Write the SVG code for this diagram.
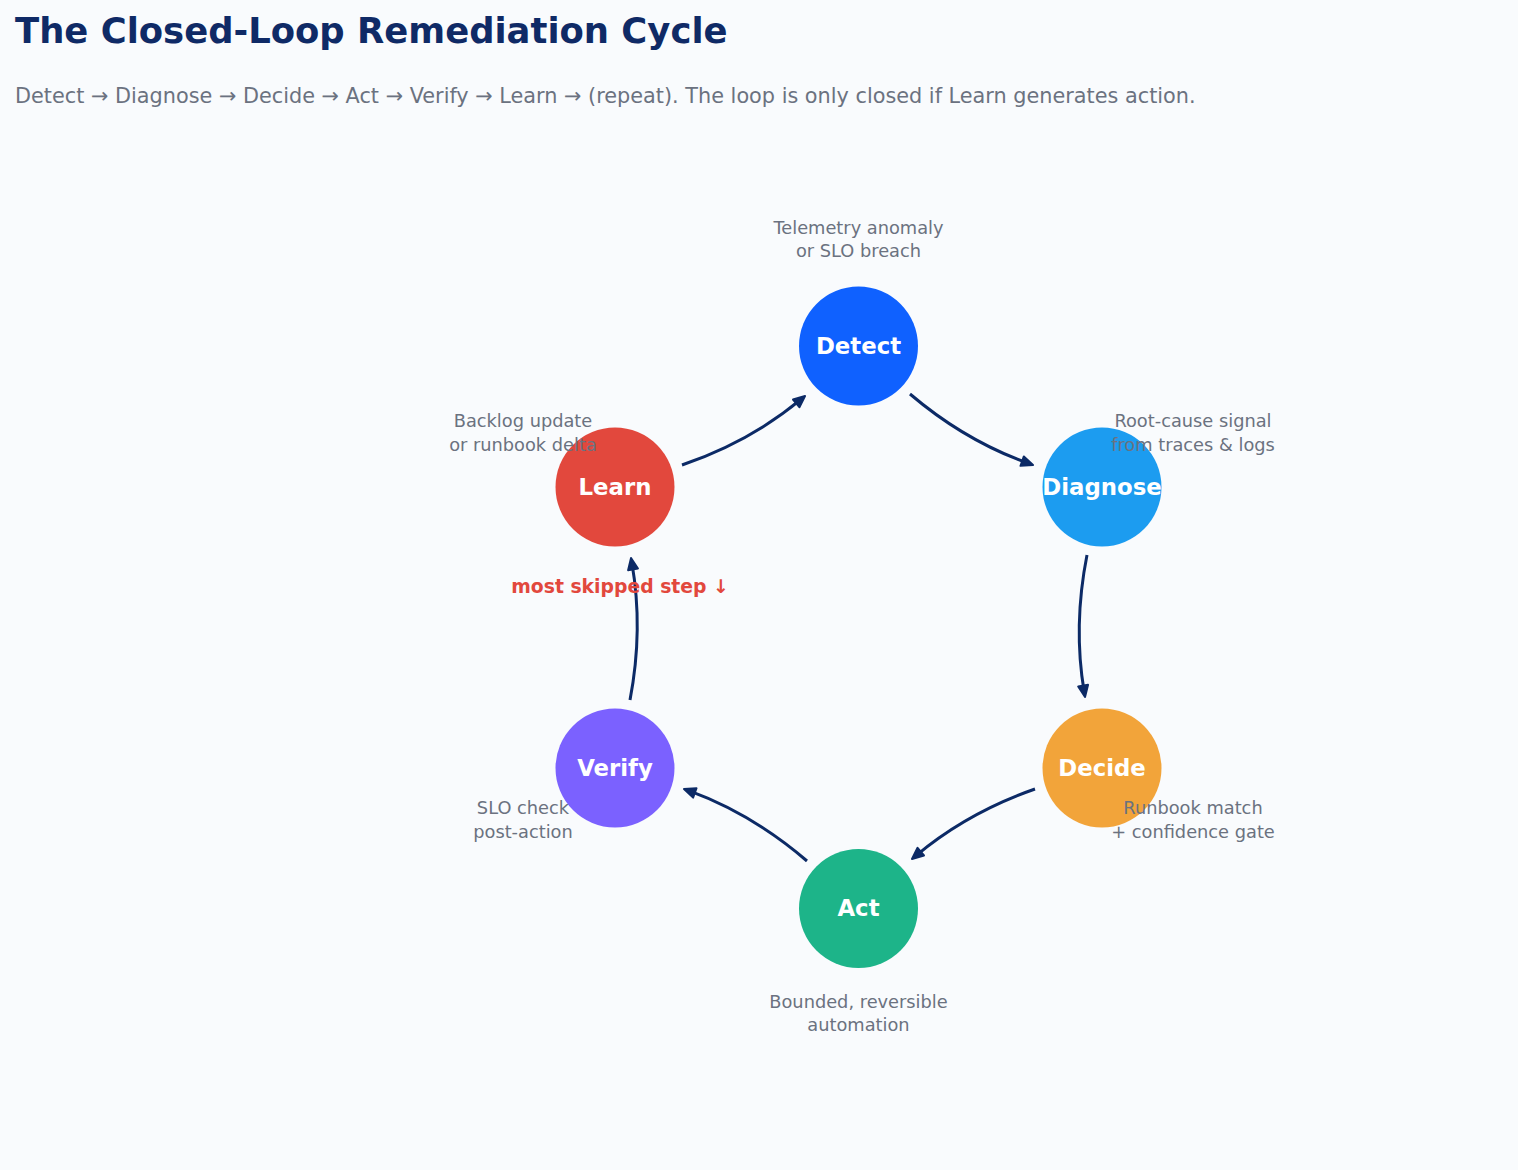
<svg xmlns="http://www.w3.org/2000/svg" width="1518" height="1170" viewBox="0 0 1518 1170">
<style>
.title{font-family:"DejaVu Sans",sans-serif;font-weight:bold;font-size:35.4px;fill:#0f2a66}
.sub{font-family:"DejaVu Sans",sans-serif;font-size:20.8px;fill:#6b7280}
.lbl{font-family:"DejaVu Sans",sans-serif;font-weight:bold;font-size:22.8px;fill:#ffffff;text-anchor:middle}
.ann{font-family:"DejaVu Sans",sans-serif;font-size:17.8px;fill:#6b7280;text-anchor:middle}
.warn{font-family:"DejaVu Sans",sans-serif;font-weight:bold;font-size:18.8px;fill:#e2483d;text-anchor:middle}
.edge{fill:none;stroke:#0c2a66;stroke-width:3;marker-end:url(#ah)}
</style>
<defs>
<marker id="ah" markerUnits="userSpaceOnUse" markerWidth="16" markerHeight="14" viewBox="0 0 16 14" refX="8" refY="7" orient="auto">
<path d="M1.5,2 L13,7 L1.5,12 z" fill="#0c2a66" stroke="#0c2a66" stroke-width="2" stroke-linejoin="round"/>
</marker>
</defs>
<rect x="0" y="0" width="1518" height="1170" fill="#f9fbfd"/>
<text class="title" x="15" y="43">The Closed-Loop Remediation Cycle</text>
<text class="sub" x="15" y="103">Detect → Diagnose → Decide → Act → Verify → Learn → (repeat). The loop is only closed if Learn generates action.</text>

<g id="connectors">
<path class="edge" d="M682,465 Q749.9,441.8 801.2,399.2"/>
<path class="edge" d="M910,394 Q965,440.8 1028.3,463.3"/>
<path class="edge" d="M1087,555 Q1073,625.8 1084.2,692.1"/>
<path class="edge" d="M1035,789 Q967.1,812.7 915.8,855.8"/>
<path class="edge" d="M807,861 Q752.1,813.8 688.7,790.7"/>
<path class="edge" d="M630,700 Q643.5,629 631.9,562.9"/>
</g>

<g id="detect">
<circle cx="858.5" cy="346" r="59.5" fill="#0f61ff"/>
<text class="lbl" x="858.5" y="354">Detect</text>
<text class="ann" x="858.5" y="234">Telemetry anomaly</text>
<text class="ann" x="858.5" y="257">or SLO breach</text>
</g>
<g id="diagnose">
<circle cx="1102" cy="487" r="59.5" fill="#1c9cf0"/>
<text class="lbl" x="1102" y="495">Diagnose</text>
<text class="ann" x="1193" y="427">Root-cause signal</text>
<text class="ann" x="1193" y="451">from traces &amp; logs</text>
</g>
<g id="decide">
<circle cx="1102" cy="768" r="59.5" fill="#f2a43a"/>
<text class="lbl" x="1102" y="776">Decide</text>
<text class="ann" x="1193" y="814">Runbook match</text>
<text class="ann" x="1193" y="838">+ confidence gate</text>
</g>
<g id="act">
<circle cx="858.5" cy="908.5" r="59.5" fill="#1db489"/>
<text class="lbl" x="858.5" y="916">Act</text>
<text class="ann" x="858.5" y="1008">Bounded, reversible</text>
<text class="ann" x="858.5" y="1031">automation</text>
</g>
<g id="verify">
<circle cx="615" cy="768" r="59.5" fill="#7b61ff"/>
<text class="lbl" x="615" y="776">Verify</text>
<text class="ann" x="523" y="814">SLO check</text>
<text class="ann" x="523" y="838">post-action</text>
</g>
<g id="learn">
<circle cx="615" cy="487" r="59.5" fill="#e2483d"/>
<text class="lbl" x="615" y="495">Learn</text>
<text class="ann" x="523" y="427">Backlog update</text>
<text class="ann" x="523" y="451">or runbook delta</text>
</g>
<text class="warn" x="620" y="593">most skipped step ↓</text>
</svg>
